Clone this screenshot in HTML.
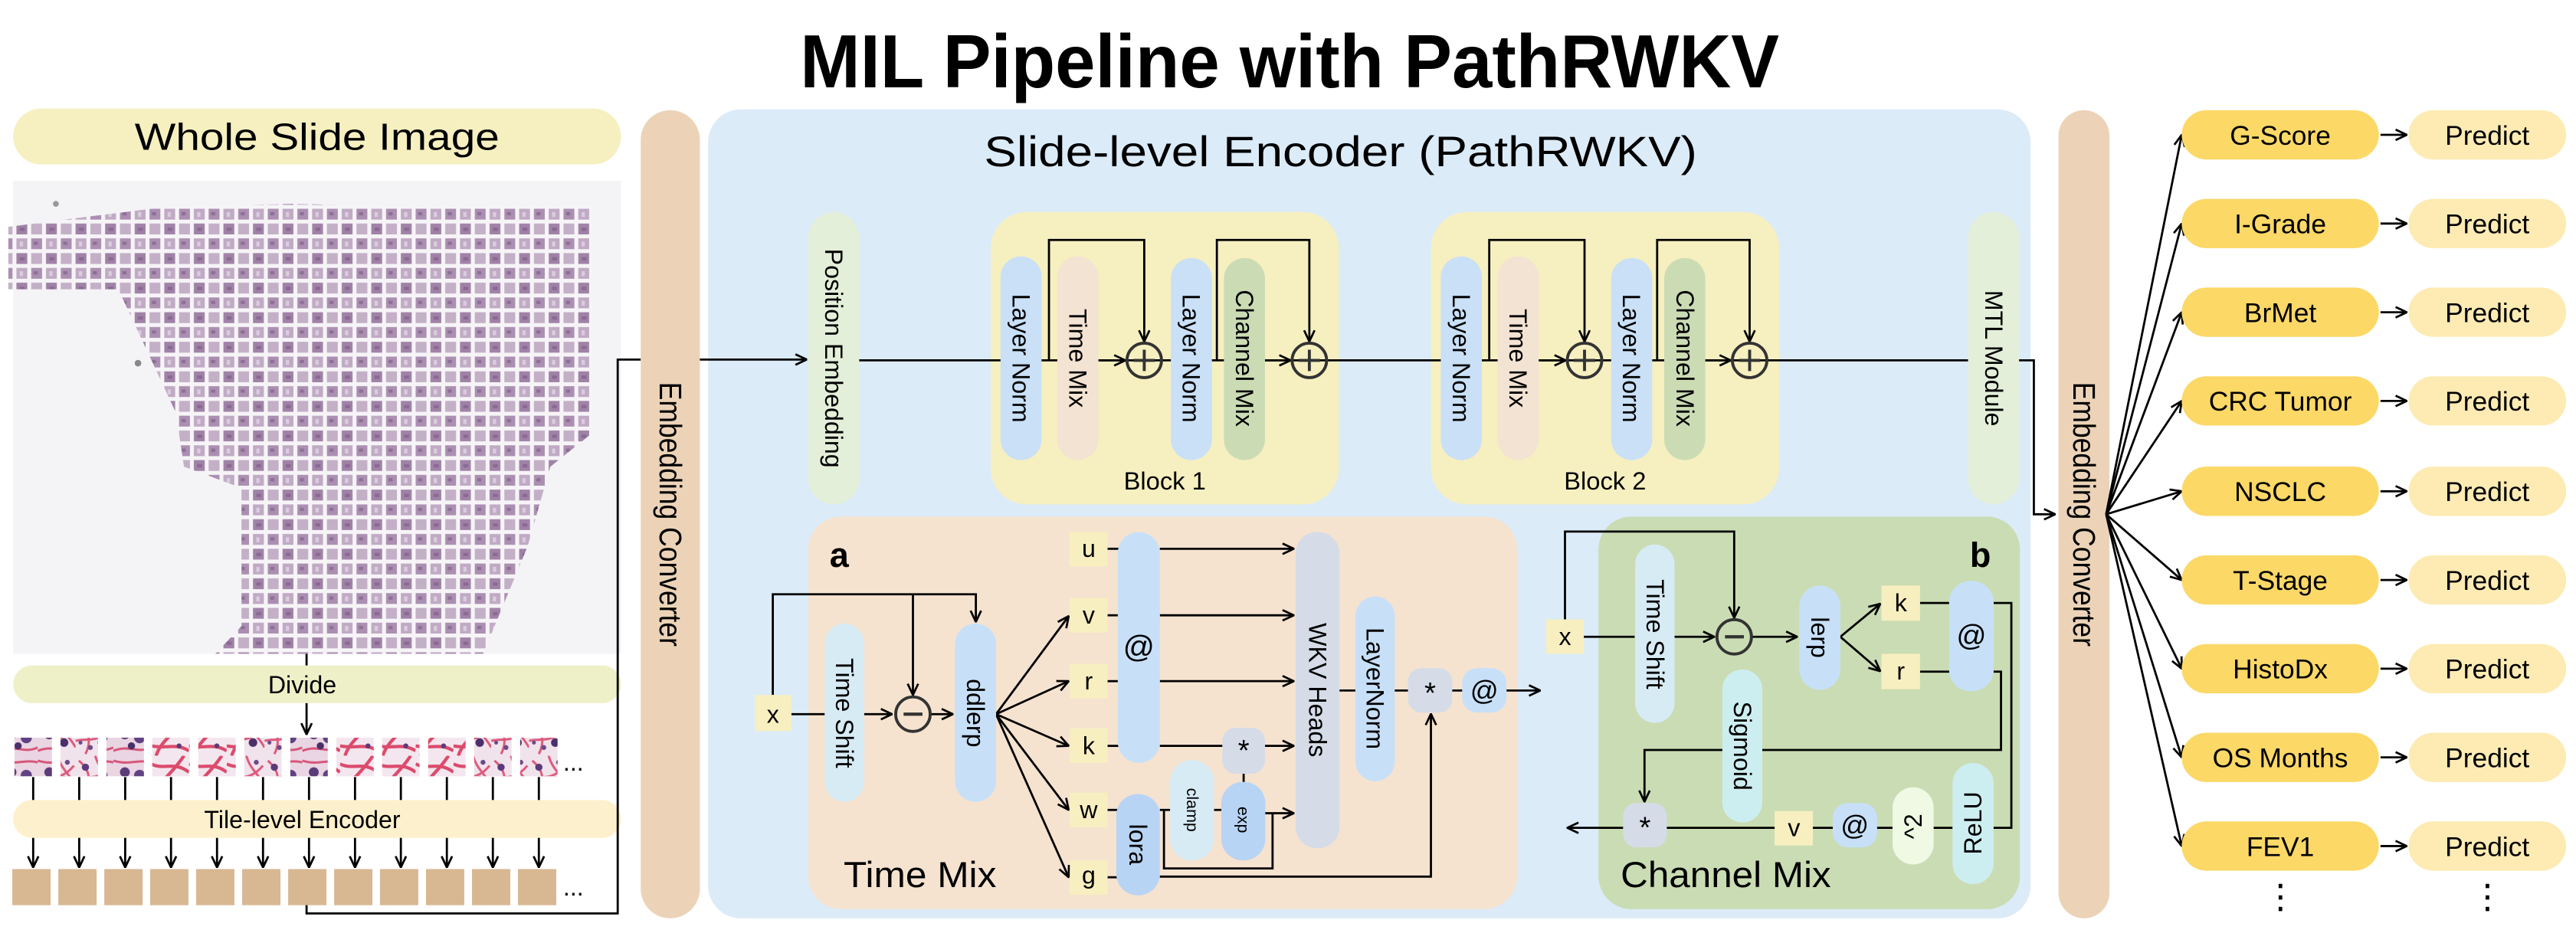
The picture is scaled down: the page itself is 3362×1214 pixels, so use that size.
<!DOCTYPE html>
<html><head><meta charset="utf-8"><style>
html,body{margin:0;padding:0;background:#fff;}
svg{display:block;}
text{font-family:"Liberation Sans",Arial,sans-serif;fill:#000;}
</style></head><body>
<svg width="3362" height="1214" viewBox="0 0 1568 566" xmlns="http://www.w3.org/2000/svg">
<defs>
<marker id="ar" viewBox="0 0 10 10" refX="9.5" refY="5" markerWidth="8" markerHeight="8" markerUnits="userSpaceOnUse" orient="auto">
<path d="M1,1 L9.5,5 L1,9" fill="none" stroke="#000" stroke-width="1.6"/>
</marker>
<pattern id="wsi" x="0" y="0" width="18" height="18" patternUnits="userSpaceOnUse">
<rect width="18" height="18" fill="#f6f4f7"/>
<rect x="1" y="1" width="6.6" height="6.6" fill="#ab8fb1"/>
<rect x="10" y="1" width="6.6" height="6.6" fill="#c0aac4"/>
<rect x="1" y="10" width="6.6" height="6.6" fill="#c3b0c7"/>
<rect x="10" y="10" width="6.6" height="6.6" fill="#a082a7"/>
<rect x="2.5" y="3" width="2.5" height="2" fill="#8e6f96"/>
<rect x="12" y="12.5" width="3" height="2" fill="#8a6a92"/>
<rect x="12" y="3" width="2" height="3" fill="#d9cdde"/>
</pattern>
<pattern id="he1" width="23" height="23" patternUnits="userSpaceOnUse">
<rect width="23" height="23" fill="#f1e3ec"/>
<path d="M2,3 C8,8 10,14 6,22 M12,0 C14,8 20,12 23,18 M0,14 C6,12 14,16 22,6" stroke="#dd5a7c" stroke-width="1.4" fill="none"/>
<circle cx="6" cy="7" r="2.2" fill="#5b3a79"/><circle cx="16" cy="15" r="2.6" fill="#4b2f6b"/><circle cx="9" cy="18" r="1.5" fill="#6b4a88"/><circle cx="18" cy="4" r="1.5" fill="#6b4a88"/><circle cx="3" cy="15" r="1.2" fill="#6b4a88"/>
</pattern>
<pattern id="he2" width="23" height="23" patternUnits="userSpaceOnUse">
<rect width="23" height="23" fill="#f4e6ee"/>
<path d="M0,5 C8,9 14,3 23,10 M3,23 C6,14 12,12 20,0 M0,17 C9,19 15,15 23,20" stroke="#dc4a6c" stroke-width="2" fill="none"/>
<circle cx="17" cy="17" r="1.5" fill="#5b3a79"/>
</pattern>
<pattern id="he3" width="23" height="23" patternUnits="userSpaceOnUse">
<rect width="23" height="23" fill="#ead5e3"/>
<path d="M0,3 C10,6 14,2 23,4 M0,20 C10,16 14,22 23,18" stroke="#d7567a" stroke-width="1.4" fill="none"/>
<circle cx="7" cy="10" r="3" fill="#5a3d78"/><circle cx="16" cy="12" r="3.4" fill="#604282"/><circle cx="11" cy="17" r="2.2" fill="#4a3068"/>
</pattern>
<clipPath id="tissue">
<polygon points="5,138 60,131 100,126 180,124 260,126 360,125 360,264 335,284 321,333 294,398 131,398 147,381 147,297 112,284 107,251 72,176 5,176"/>
</clipPath>
</defs>

<!-- Title -->
<text x="785" y="53" font-size="46" font-weight="bold" text-anchor="middle" textLength="596" lengthAdjust="spacingAndGlyphs">MIL Pipeline with PathRWKV</text>

<!-- Left column -->
<rect x="8" y="66" width="370" height="34" rx="17" fill="#f6efc0"/>
<text x="193" y="91" font-size="23" text-anchor="middle" textLength="222" lengthAdjust="spacingAndGlyphs">Whole Slide Image</text>
<rect x="8" y="110" width="370" height="288" fill="#f4f3f6"/>
<rect x="0" y="110" width="378" height="288" fill="url(#wsi)" clip-path="url(#tissue)"/>
<circle cx="34" cy="124" r="1.8" fill="#999"/><circle cx="84" cy="221" r="2" fill="#888"/>
<line x1="186.6" y1="398" x2="186.6" y2="406" stroke="#000" stroke-width="1.3"/>
<rect x="8" y="405" width="370" height="23" rx="11.5" fill="#eef0c8"/>
<text x="184" y="422" font-size="15" text-anchor="middle">Divide</text>
<line x1="186.6" y1="428" x2="186.6" y2="447" stroke="#000" stroke-width="1.3" marker-end="url(#ar)"/>

<g>
<rect x="8.8" y="449" width="22.8" height="23.5" fill="url(#he3)"/>
<rect x="36.8" y="449" width="22.8" height="23.5" fill="url(#he1)"/>
<rect x="64.8" y="449" width="22.8" height="23.5" fill="url(#he3)"/>
<rect x="92.7" y="449" width="22.8" height="23.5" fill="url(#he2)"/>
<rect x="120.7" y="449" width="22.8" height="23.5" fill="url(#he2)"/>
<rect x="148.7" y="449" width="22.8" height="23.5" fill="url(#he1)"/>
<rect x="176.7" y="449" width="22.8" height="23.5" fill="url(#he3)"/>
<rect x="204.7" y="449" width="22.8" height="23.5" fill="url(#he2)"/>
<rect x="232.6" y="449" width="22.8" height="23.5" fill="url(#he2)"/>
<rect x="260.6" y="449" width="22.8" height="23.5" fill="url(#he2)"/>
<rect x="288.6" y="449" width="22.8" height="23.5" fill="url(#he1)"/>
<rect x="316.6" y="449" width="22.8" height="23.5" fill="url(#he1)"/>
</g>
<text x="349" y="469" font-size="15" text-anchor="middle">...</text>
<g stroke="#000" stroke-width="1.3">
<line x1="20.2" y1="473" x2="20.2" y2="487"/><line x1="48.2" y1="473" x2="48.2" y2="487"/><line x1="76.2" y1="473" x2="76.2" y2="487"/><line x1="104.1" y1="473" x2="104.1" y2="487"/><line x1="132.1" y1="473" x2="132.1" y2="487"/><line x1="160.1" y1="473" x2="160.1" y2="487"/><line x1="188.1" y1="473" x2="188.1" y2="487"/><line x1="216.1" y1="473" x2="216.1" y2="487"/><line x1="244" y1="473" x2="244" y2="487"/><line x1="272" y1="473" x2="272" y2="487"/><line x1="300" y1="473" x2="300" y2="487"/><line x1="328" y1="473" x2="328" y2="487"/>
</g>
<rect x="8" y="487" width="370" height="23" rx="11.5" fill="#fdf0cc"/>
<text x="184" y="504" font-size="15" text-anchor="middle">Tile-level Encoder</text>
<g stroke="#000" stroke-width="1.3" marker-end="url(#ar)">
<line x1="20.2" y1="510" x2="20.2" y2="528"/><line x1="48.2" y1="510" x2="48.2" y2="528"/><line x1="76.2" y1="510" x2="76.2" y2="528"/><line x1="104.1" y1="510" x2="104.1" y2="528"/><line x1="132.1" y1="510" x2="132.1" y2="528"/><line x1="160.1" y1="510" x2="160.1" y2="528"/><line x1="188.1" y1="510" x2="188.1" y2="528"/><line x1="216.1" y1="510" x2="216.1" y2="528"/><line x1="244" y1="510" x2="244" y2="528"/><line x1="272" y1="510" x2="272" y2="528"/><line x1="300" y1="510" x2="300" y2="528"/><line x1="328" y1="510" x2="328" y2="528"/>
</g>
<g fill="#d8b793">
<rect x="7.5" y="529" width="23.3" height="22"/><rect x="35.5" y="529" width="23.3" height="22"/><rect x="63.5" y="529" width="23.3" height="22"/><rect x="91.4" y="529" width="23.3" height="22"/><rect x="119.4" y="529" width="23.3" height="22"/><rect x="147.4" y="529" width="23.3" height="22"/><rect x="175.4" y="529" width="23.3" height="22"/><rect x="203.4" y="529" width="23.3" height="22"/><rect x="231.3" y="529" width="23.3" height="22"/><rect x="259.3" y="529" width="23.3" height="22"/><rect x="287.3" y="529" width="23.3" height="22"/><rect x="315.3" y="529" width="23.3" height="22"/>
</g>
<text x="349" y="545" font-size="15" text-anchor="middle">...</text>
<path d="M186.6,551 V556 H376 V218.8 H390" fill="none" stroke="#000" stroke-width="1.3"/>

<!-- Left embedding converter -->
<rect x="390" y="67" width="36" height="492" rx="18" fill="#ecd3b7"/>
<text transform="translate(408,313) rotate(90)" font-size="19" text-anchor="middle" dominant-baseline="central" textLength="161" lengthAdjust="spacingAndGlyphs">Embedding Converter</text>

<!-- Big blue panel -->
<rect x="431" y="66.5" width="805" height="492.5" rx="20" fill="#dbebf8"/>
<text x="816" y="101" font-size="26" text-anchor="middle" textLength="434" lengthAdjust="spacingAndGlyphs">Slide-level Encoder (PathRWKV)</text>

<!-- top row -->
<line x1="426" y1="218.8" x2="491" y2="218.8" stroke="#000" stroke-width="1.3" marker-end="url(#ar)"/>
<rect x="492" y="129" width="31" height="178" rx="15.5" fill="#e3efd9"/>
<text transform="translate(507.5,218) rotate(90)" font-size="15" text-anchor="middle" dominant-baseline="central">Position Embedding</text>

<rect x="603" y="129" width="212" height="178" rx="22" fill="#f6efc0"/>
<rect x="871" y="129" width="212" height="178" rx="22" fill="#f6efc0"/>
<text x="709" y="298" font-size="15" text-anchor="middle" textLength="50" lengthAdjust="spacingAndGlyphs">Block 1</text>
<text x="977" y="298" font-size="15" text-anchor="middle" textLength="50" lengthAdjust="spacingAndGlyphs">Block 2</text>

<g stroke="#000" stroke-width="1.3" fill="none">
<line x1="523" y1="219.3" x2="1198" y2="219.3"/>
<line x1="669" y1="219.3" x2="685" y2="219.3" marker-end="url(#ar)"/>
<line x1="770" y1="219.3" x2="785.5" y2="219.3" marker-end="url(#ar)"/>
<line x1="937" y1="219.3" x2="953" y2="219.3" marker-end="url(#ar)"/>
<line x1="1038" y1="219.3" x2="1053.5" y2="219.3" marker-end="url(#ar)"/>
<path d="M638.5,219.3 V146 H696.5 V207.8" marker-end="url(#ar)"/>
<path d="M740.7,219.3 V146 H797 V207.8" marker-end="url(#ar)"/>
<path d="M906.5,219.3 V146 H964.5 V207.8" marker-end="url(#ar)"/>
<path d="M1008.7,219.3 V146 H1065 V207.8" marker-end="url(#ar)"/>
</g>
<!-- block pills -->
<g>
<rect x="609" y="156" width="25" height="124" rx="12.5" fill="#c9e0f7"/>
<rect x="643.6" y="156" width="25" height="124" rx="12.5" fill="#f3e3d3"/>
<rect x="712.7" y="157" width="25" height="123" rx="12.5" fill="#c9e0f7"/>
<rect x="745" y="157" width="25" height="123" rx="12.5" fill="#cbdcb4"/>
<rect x="877" y="156" width="25" height="124" rx="12.5" fill="#c9e0f7"/>
<rect x="911.6" y="156" width="25" height="124" rx="12.5" fill="#f3e3d3"/>
<rect x="980.7" y="157" width="25" height="123" rx="12.5" fill="#c9e0f7"/>
<rect x="1013" y="157" width="25" height="123" rx="12.5" fill="#cbdcb4"/>
</g>
<g font-size="15" text-anchor="middle" dominant-baseline="central">
<text transform="translate(621.5,218) rotate(90)">Layer Norm</text>
<text transform="translate(656,218) rotate(90)">Time Mix</text>
<text transform="translate(725,218) rotate(90)">Layer Norm</text>
<text transform="translate(757.5,218) rotate(90)">Channel Mix</text>
<text transform="translate(889.5,218) rotate(90)">Layer Norm</text>
<text transform="translate(924,218) rotate(90)">Time Mix</text>
<text transform="translate(993,218) rotate(90)">Layer Norm</text>
<text transform="translate(1025.5,218) rotate(90)">Channel Mix</text>
</g>
<g fill="none" stroke="#333" stroke-width="1.8">
<circle cx="696.5" cy="219.3" r="10.5"/><circle cx="797" cy="219.3" r="10.5"/>
<circle cx="964.5" cy="219.3" r="10.5"/><circle cx="1065" cy="219.3" r="10.5"/>
<path d="M690,219.3 H703 M696.5,212.8 V225.8 M790.5,219.3 H803.5 M797,212.8 V225.8 M958,219.3 H971 M964.5,212.8 V225.8 M1058.5,219.3 H1071.5 M1065,212.8 V225.8"/>
</g>
<rect x="1198" y="129" width="31" height="178" rx="15.5" fill="#e3efd9"/>
<text transform="translate(1213.5,218) rotate(90)" font-size="15" text-anchor="middle" dominant-baseline="central">MTL Module</text>
<path d="M1229,219.3 H1238 V313 H1251" fill="none" stroke="#000" stroke-width="1.3" marker-end="url(#ar)"/>

<!-- Panel a: Time Mix -->
<rect x="492" y="314.4" width="431.5" height="239" rx="20" fill="#f5e3d0"/>
<text x="505" y="345" font-size="21" font-weight="bold">a</text>
<text x="513.5" y="540" font-size="22" textLength="93" lengthAdjust="spacingAndGlyphs">Time Mix</text>
<g stroke="#000" stroke-width="1.3" fill="none">
<line x1="481.7" y1="434.7" x2="502" y2="434.7"/>
<line x1="526" y1="434.7" x2="543" y2="434.7" marker-end="url(#ar)"/>
<line x1="566.5" y1="434.7" x2="580" y2="434.7" marker-end="url(#ar)"/>
<path d="M470.4,423 V361.7 H594 V378.5" marker-end="url(#ar)"/>
<line x1="555.7" y1="361.7" x2="555.7" y2="423" marker-end="url(#ar)"/>
<line x1="606.3" y1="434.7" x2="650.5" y2="375" marker-end="url(#ar)"/>
<line x1="606.3" y1="434.7" x2="650.5" y2="414.6" marker-end="url(#ar)"/>
<line x1="606.3" y1="434.7" x2="650.5" y2="454" marker-end="url(#ar)"/>
<line x1="606.3" y1="434.7" x2="650.5" y2="493" marker-end="url(#ar)"/>
<line x1="606.3" y1="434.7" x2="650.5" y2="534" marker-end="url(#ar)"/>
<line x1="674" y1="334" x2="681" y2="334"/><line x1="674" y1="374.5" x2="681" y2="374.5"/><line x1="674" y1="414.6" x2="681" y2="414.6"/><line x1="674" y1="454" x2="681" y2="454"/><line x1="674" y1="493" x2="681" y2="493"/><line x1="674" y1="534" x2="681" y2="534"/>
<line x1="706" y1="334" x2="787.5" y2="334" marker-end="url(#ar)"/>
<line x1="706" y1="374.5" x2="787.5" y2="374.5" marker-end="url(#ar)"/>
<line x1="706" y1="414.6" x2="787.5" y2="414.6" marker-end="url(#ar)"/>
<line x1="706" y1="454" x2="745" y2="454"/>
<line x1="770" y1="454" x2="787.5" y2="454" marker-end="url(#ar)"/>
<line x1="706" y1="493" x2="745" y2="493"/>
<line x1="770" y1="495" x2="787.5" y2="495" marker-end="url(#ar)"/>
<path d="M708.5,493 V528.6 H774.6 V495"/>
<line x1="757" y1="470" x2="757" y2="477"/>
<line x1="815" y1="420.3" x2="858" y2="420.3"/>
<path d="M706,533.6 H871 V434.5" marker-end="url(#ar)"/>
<line x1="883" y1="420.3" x2="891" y2="420.3"/>
<line x1="917" y1="420.3" x2="937.5" y2="420.3" marker-end="url(#ar)"/>
</g>
<rect x="459.4" y="423" width="22.3" height="22" fill="#f7efc0"/>
<text x="470.5" y="440" font-size="15" text-anchor="middle">x</text>
<rect x="502" y="379.5" width="24" height="108.5" rx="12" fill="#d7ebf5"/>
<text transform="translate(514,434) rotate(90)" font-size="15" text-anchor="middle" dominant-baseline="central">Time Shift</text>
<circle cx="555.7" cy="434.7" r="10.5" fill="none" stroke="#333" stroke-width="1.8"/>
<line x1="550" y1="434.7" x2="561.5" y2="434.7" stroke="#333" stroke-width="2"/>
<rect x="581.3" y="379.5" width="25" height="108.5" rx="12.5" fill="#c7e0f8"/>
<text transform="translate(593.8,434) rotate(90)" font-size="15" text-anchor="middle" dominant-baseline="central">ddlerp</text>
<g fill="#f7efc0">
<rect x="651.2" y="323.8" width="23" height="21"/><rect x="651.2" y="364" width="23" height="21"/><rect x="651.2" y="404" width="23" height="21"/><rect x="651.2" y="443.3" width="23" height="21"/><rect x="651.2" y="482.5" width="23" height="21"/><rect x="651.2" y="523.7" width="23" height="21"/>
</g>
<g font-size="15" text-anchor="middle">
<text x="662.7" y="339">u</text><text x="662.7" y="379.5">v</text><text x="662.7" y="419.6">r</text><text x="662.7" y="459">k</text><text x="662.7" y="498">w</text><text x="662.7" y="538">g</text>
</g>
<rect x="680.4" y="323.8" width="25.6" height="140.6" rx="12.8" fill="#c7e0f8"/>
<text x="693.2" y="400" font-size="19" text-anchor="middle">@</text>
<rect x="679.5" y="483.3" width="26.5" height="61.7" rx="13" fill="#b8d4f5"/>
<text transform="translate(692.7,514) rotate(90)" font-size="15" text-anchor="middle" dominant-baseline="central">lora</text>
<rect x="712.2" y="462.7" width="26.8" height="61" rx="13" fill="#d7ebf5"/>
<text transform="translate(725.6,493) rotate(90)" font-size="10" text-anchor="middle" dominant-baseline="central">clamp</text>
<rect x="743.4" y="475.9" width="26.8" height="47.8" rx="13" fill="#b8d4f5"/>
<text transform="translate(756.8,499) rotate(90)" font-size="10" text-anchor="middle" dominant-baseline="central">exp</text>
<rect x="744" y="443" width="26" height="28" rx="8" fill="#d5dce8"/>
<text x="757" y="463" font-size="18" text-anchor="middle">*</text>
<rect x="788.6" y="323.8" width="26.8" height="192.5" rx="13" fill="#d5dce8"/>
<text transform="translate(802,420) rotate(90)" font-size="15" text-anchor="middle" dominant-baseline="central">WKV Heads</text>
<rect x="825" y="363" width="24" height="112.5" rx="12" fill="#c7e0f8"/>
<text transform="translate(837,419) rotate(90)" font-size="15" text-anchor="middle" dominant-baseline="central">LayerNorm</text>
<rect x="857" y="406.7" width="27" height="27" rx="8" fill="#d5dce8"/>
<text x="870.5" y="428" font-size="18" text-anchor="middle">*</text>
<rect x="890" y="406.7" width="27" height="27" rx="9" fill="#c7e0f8"/>
<text x="903.5" y="426" font-size="17" text-anchor="middle">@</text>

<!-- Panel b: Channel Mix -->
<rect x="973" y="314.4" width="256.5" height="239" rx="20" fill="#cadcb3"/>
<text x="1199" y="345" font-size="21" font-weight="bold">b</text>
<text x="986.5" y="540" font-size="22" textLength="128" lengthAdjust="spacingAndGlyphs">Channel Mix</text>
<g stroke="#000" stroke-width="1.3" fill="none">
<line x1="964" y1="387.6" x2="995" y2="387.6"/>
<line x1="1019" y1="387.6" x2="1043.5" y2="387.6" marker-end="url(#ar)"/>
<line x1="1066" y1="387.6" x2="1094" y2="387.6" marker-end="url(#ar)"/>
<path d="M952.6,377 V323.5 H1055.6 V376" marker-end="url(#ar)"/>
<line x1="1120.2" y1="387.6" x2="1144.5" y2="367.5" marker-end="url(#ar)"/>
<line x1="1120.2" y1="387.6" x2="1144.5" y2="408.5" marker-end="url(#ar)"/>
<line x1="1168.7" y1="367" x2="1187" y2="367"/>
<line x1="1168.7" y1="408.8" x2="1187" y2="408.8"/>
<path d="M1213.5,367 H1224.3 V503.9 H1213"/>
<path d="M1213.5,408.8 H1218 V456.5 H1001 V488" marker-end="url(#ar)"/>
<line x1="1188.5" y1="503.9" x2="988" y2="503.9"/>
<line x1="988" y1="503.9" x2="954" y2="503.9" marker-end="url(#ar)"/>
</g>
<rect x="941.1" y="377" width="23" height="21" fill="#f7efc0"/>
<text x="952.6" y="392.5" font-size="15" text-anchor="middle">x</text>
<rect x="995.3" y="331.4" width="24" height="108.6" rx="12" fill="#d7ebf5"/>
<text transform="translate(1007.3,386) rotate(90)" font-size="15" text-anchor="middle" dominant-baseline="central">Time Shift</text>
<circle cx="1055.6" cy="387.6" r="10.5" fill="none" stroke="#333" stroke-width="1.8"/>
<line x1="1050" y1="387.6" x2="1061.5" y2="387.6" stroke="#333" stroke-width="2"/>
<rect x="1095.2" y="356.4" width="25" height="63.5" rx="12.5" fill="#c7e0f8"/>
<text transform="translate(1107.7,388) rotate(90)" font-size="15" text-anchor="middle" dominant-baseline="central">lerp</text>
<rect x="1145.2" y="356.4" width="23.5" height="21.4" fill="#f7efc0"/>
<text x="1157" y="372" font-size="15" text-anchor="middle">k</text>
<rect x="1145.2" y="398" width="23.5" height="21.5" fill="#f7efc0"/>
<text x="1157" y="413.5" font-size="15" text-anchor="middle">r</text>
<rect x="1186.4" y="353.6" width="27.1" height="67.1" rx="13" fill="#c7e0f8"/>
<text x="1200" y="393" font-size="18" text-anchor="middle">@</text>
<rect x="1048.4" y="407.5" width="24.3" height="93.1" rx="12" fill="#cdeef0"/>
<text transform="translate(1060.5,454) rotate(90)" font-size="15" text-anchor="middle" dominant-baseline="central">Sigmoid</text>
<rect x="1188.5" y="464.4" width="25" height="73.8" rx="12.5" fill="#cdeef0"/>
<text transform="translate(1201,501) rotate(-90)" font-size="15" text-anchor="middle" dominant-baseline="central">ReLU</text>
<rect x="1152" y="479.2" width="25" height="47" rx="12.5" fill="#eff9e4"/>
<text transform="translate(1164.5,503) rotate(-90)" font-size="15" text-anchor="middle" dominant-baseline="central">^2</text>
<rect x="1115.6" y="488.8" width="27" height="27" rx="9" fill="#c7e0f8"/>
<text x="1129" y="508" font-size="17" text-anchor="middle">@</text>
<rect x="1080.2" y="493.7" width="23.3" height="21" fill="#f7efc0"/>
<text x="1092" y="509" font-size="15" text-anchor="middle">v</text>
<rect x="988" y="488.8" width="26.6" height="27" rx="8" fill="#d5dce8"/>
<text x="1001.3" y="510" font-size="18" text-anchor="middle">*</text>

<!-- Right embedding converter -->
<rect x="1253" y="67" width="31" height="492" rx="15.5" fill="#ecd3b7"/>
<text transform="translate(1268.5,313) rotate(90)" font-size="19" text-anchor="middle" dominant-baseline="central" textLength="161" lengthAdjust="spacingAndGlyphs">Embedding Converter</text>

<!-- Tasks -->
<g stroke="#000" stroke-width="1.3" marker-end="url(#ar)">
<line x1="1282" y1="313" x2="1328" y2="82"/>
<line x1="1282" y1="313" x2="1328" y2="136"/>
<line x1="1282" y1="313" x2="1328" y2="190"/>
<line x1="1282" y1="313" x2="1328" y2="244"/>
<line x1="1282" y1="313" x2="1328" y2="299"/>
<line x1="1282" y1="313" x2="1328" y2="353"/>
<line x1="1282" y1="313" x2="1328" y2="407"/>
<line x1="1282" y1="313" x2="1328" y2="461"/>
<line x1="1282" y1="313" x2="1328" y2="515"/>
<line x1="1449" y1="82" x2="1465" y2="82"/>
<line x1="1449" y1="136" x2="1465" y2="136"/>
<line x1="1449" y1="190" x2="1465" y2="190"/>
<line x1="1449" y1="244" x2="1465" y2="244"/>
<line x1="1449" y1="299" x2="1465" y2="299"/>
<line x1="1449" y1="353" x2="1465" y2="353"/>
<line x1="1449" y1="407" x2="1465" y2="407"/>
<line x1="1449" y1="461" x2="1465" y2="461"/>
<line x1="1449" y1="515" x2="1465" y2="515"/>
</g>
<g fill="#fcd867">
<rect x="1328" y="67" width="120" height="30" rx="15"/><rect x="1328" y="121" width="120" height="30" rx="15"/><rect x="1328" y="175" width="120" height="30" rx="15"/><rect x="1328" y="229" width="120" height="30" rx="15"/><rect x="1328" y="284" width="120" height="30" rx="15"/><rect x="1328" y="338" width="120" height="30" rx="15"/><rect x="1328" y="392" width="120" height="30" rx="15"/><rect x="1328" y="446" width="120" height="30" rx="15"/><rect x="1328" y="500" width="120" height="30" rx="15"/>
</g>
<g fill="#fdebb3">
<rect x="1466" y="67" width="96" height="30" rx="15"/><rect x="1466" y="121" width="96" height="30" rx="15"/><rect x="1466" y="175" width="96" height="30" rx="15"/><rect x="1466" y="229" width="96" height="30" rx="15"/><rect x="1466" y="284" width="96" height="30" rx="15"/><rect x="1466" y="338" width="96" height="30" rx="15"/><rect x="1466" y="392" width="96" height="30" rx="15"/><rect x="1466" y="446" width="96" height="30" rx="15"/><rect x="1466" y="500" width="96" height="30" rx="15"/>
</g>
<g font-size="16.5" text-anchor="middle">
<text x="1388" y="88">G-Score</text><text x="1388" y="142">I-Grade</text><text x="1388" y="196">BrMet</text><text x="1388" y="250">CRC Tumor</text><text x="1388" y="305">NSCLC</text><text x="1388" y="359">T-Stage</text><text x="1388" y="413">HistoDx</text><text x="1388" y="467">OS Months</text><text x="1388" y="521">FEV1</text>
<text x="1514" y="88">Predict</text><text x="1514" y="142">Predict</text><text x="1514" y="196">Predict</text><text x="1514" y="250">Predict</text><text x="1514" y="305">Predict</text><text x="1514" y="359">Predict</text><text x="1514" y="413">Predict</text><text x="1514" y="467">Predict</text><text x="1514" y="521">Predict</text>
</g>
<g fill="#000">
<rect x="1387" y="538" width="2.2" height="2.6"/><rect x="1387" y="545" width="2.2" height="2.6"/><rect x="1387" y="552" width="2.2" height="2.6"/>
<rect x="1513" y="538" width="2.2" height="2.6"/><rect x="1513" y="545" width="2.2" height="2.6"/><rect x="1513" y="552" width="2.2" height="2.6"/>
</g>
</svg>
</body></html>
